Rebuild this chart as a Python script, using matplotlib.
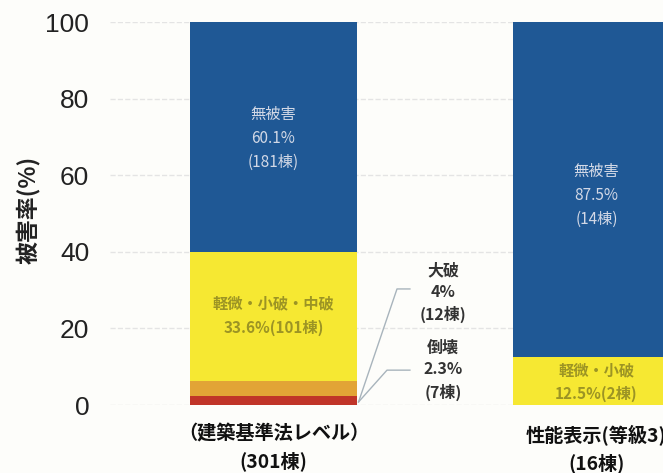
import matplotlib.pyplot as plt
import numpy as np

plt.rcParams['font.family'] = ['Noto Sans CJK JP', 'DejaVu Sans']

categories = ['（建築基準法レベル）\n(301棟)', '性能表示(等級3)\n(16棟)']
collapse = [2.3, 0.0]      # 倒壊
major = [4.0, 0.0]         # 大破
minor = [33.6, 12.5]       # 軽微・小破(・中破)
none_ = [60.1, 87.5]       # 無被害

minor_labels = ['軽微・小破・中破\n33.6%(101棟)', '軽微・小破\n12.5%(2棟)']
none_labels = ['無被害\n60.1%\n(181棟)', '無被害\n87.5%\n(14棟)']
major_label = '大破\n4%\n(12棟)'
collapse_label = '倒壊\n2.3%\n(7棟)'
yticks = [0, 20, 40, 60, 80, 100]

c_red = '#c03428'
c_orange = '#e2a436'
c_yellow = '#f6e832'
c_blue = '#1f5895'

fig = plt.figure(figsize=(6.63, 4.73), dpi=100)
fig.patch.set_facecolor('#fdfdfa')
ax = fig.add_axes([110 / 663, 68 / 473, 553 / 663, 383 / 473])
ax.set_facecolor('#fdfdfa')

x = np.arange(len(categories))
w = 0.517
collapse = np.array(collapse)
major = np.array(major)
minor = np.array(minor)
none_ = np.array(none_)

ax.bar(x, collapse, w, color=c_red, zorder=2)
ax.bar(x, major, w, bottom=collapse, color=c_orange, zorder=2)
b_minor = collapse + major
ax.bar(x, minor, w, bottom=b_minor, color=c_yellow, zorder=2)
b_none = b_minor + minor
ax.bar(x, none_, w, bottom=b_none, color=c_blue, zorder=2)

for i in x:
    ax.text(i, b_none[i] + none_[i] / 2 - (0.3 if i == 0 else 1.5), none_labels[i],
            ha='center', va='center', color='#d2d8e6', fontsize=11, linespacing=1.55,
            zorder=3)
    ax.text(i, b_minor[i] + minor[i] / 2 + (0.2 if i == 0 else -0.3), minor_labels[i],
            ha='center', va='center', color='#9c9424', fontsize=11,
            fontweight='bold', linespacing=1.6, zorder=3)

# leader lines from bar corner
edge = x[0] + w / 2
ax.plot([edge + 0.005, edge + 0.124, edge + 0.164], [0.8, 30.3, 30.3],
        color='#a8b4bc', lw=1, zorder=3, clip_on=False)
ax.plot([edge + 0.005, edge + 0.093, edge + 0.164], [0.8, 9.1, 9.1],
        color='#a8b4bc', lw=1, zorder=3, clip_on=False)
ax.text(edge + 0.267, 29.3, major_label, ha='center', va='center', color='#333333',
        fontsize=11.5, fontweight='bold', linespacing=1.45)
ax.text(edge + 0.267, 9.1, collapse_label, ha='center', va='center', color='#333333',
        fontsize=11.5, fontweight='bold', linespacing=1.45)

ax.set_xlim(-0.506, 1.206)
ax.set_ylim(0, 100)
ax.set_yticks(yticks)
ax.set_yticklabels([str(v) for v in yticks], fontsize=19,
                   family=['Liberation Sans', 'DejaVu Sans'], color='#222222')
ax.set_xticks(x)
ax.set_xticklabels(categories, fontsize=13.8, fontweight='bold', linespacing=1.5,
                   color='#111111')
ax.tick_params(axis='y', length=0, pad=15)
ax.tick_params(axis='x', length=0, pad=14)
for s in ax.spines.values():
    s.set_visible(False)
ax.grid(axis='y', color='#e4e4e4', linestyle='--', linewidth=1, zorder=0)

ax.set_ylabel('被害率(%)', fontsize=16.5, fontweight='bold', color='#222222')
ax.yaxis.set_label_coords(-0.125, 0.51)

fig.savefig('out.png', dpi=100, facecolor=fig.get_facecolor())
